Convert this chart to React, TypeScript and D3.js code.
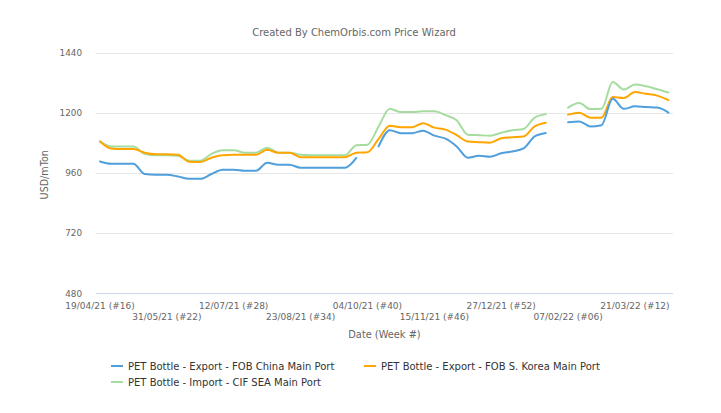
import React from "react";
import * as d3 from "d3";

const WIDTH = 721;
const HEIGHT = 413;

const xTickWeeks = [0, 6, 12, 18, 24, 30, 36, 42, 48];
const xTickLabels = [
  "19/04/21 (#16)",
  "31/05/21 (#22)",
  "12/07/21 (#28)",
  "23/08/21 (#34)",
  "04/10/21 (#40)",
  "15/11/21 (#46)",
  "27/12/21 (#52)",
  "07/02/22 (#06)",
  "21/03/22 (#12)",
];
const yTicks = [480, 720, 960, 1200, 1440];

const chinaFob: (number | null)[] = [
  1005, 996, 996, 996, 955, 952, 952, 945, 936, 936,
  955, 972, 972, 968, 968, 1000, 992, 992, 980, 980,
  980, 980, 980, 1019, null, 1065, 1130, 1118, 1118, 1128,
  1108, 1096, 1065, 1020, 1028, 1024, 1038, 1045, 1057, 1105,
  1119, null, 1162, 1165, 1145, 1150, 1255, 1215, 1225, 1222,
  1220, 1200,
];
const koreaFob: (number | null)[] = [
  1085, 1057, 1055, 1055, 1040, 1034, 1034, 1032, 1004, 1003,
  1020, 1030, 1032, 1032, 1032, 1052, 1040, 1040, 1022, 1022,
  1022, 1022, 1022, 1040, 1042, 1095, 1148, 1142, 1142, 1158,
  1140, 1132, 1110, 1085, 1082, 1080, 1098, 1102, 1105, 1145,
  1160, null, 1192, 1200, 1180, 1180, 1262, 1258, 1282, 1275,
  1268, 1250,
];
const seaCif: (number | null)[] = [
  1085, 1065, 1065, 1065, 1036, 1030, 1030, 1028, 1008, 1008,
  1035, 1050, 1050, 1040, 1040, 1060, 1040, 1040, 1032, 1030,
  1030, 1030, 1030, 1070, 1072, 1145, 1215, 1202, 1202, 1205,
  1205, 1190, 1170, 1112, 1110, 1108, 1120, 1130, 1135, 1180,
  1194, null, 1220, 1238, 1214, 1215, 1322, 1292, 1312, 1305,
  1293, 1280,
];

const seriesNames = [
  "PET Bottle - Export - FOB China Main Port",
  "PET Bottle - Export - FOB S. Korea Main Port",
  "PET Bottle - Import - CIF SEA Main Port",
];
const seriesColors = ["#4f9fdc", "#ffa500", "#a6dca0"];
const seriesData = [chinaFob, koreaFob, seaCif];

const FONT = "'DejaVu Sans', sans-serif";

export default function App() {
  const plotLeft = 96;
  const plotRight = 673;
  const x = d3.scaleLinear().domain([0, 51]).range([100, 668.4]);
  const y = d3.scaleLinear().domain([480, 1440]).range([293, 52.5]);

  const line = d3
    .line<number | null>()
    .defined((d) => d != null)
    .x((_, i) => x(i))
    .y((d) => y(d as number))
    .curve(d3.curveMonotoneX);

  // draw order: green, orange, blue? use reference: blue under? keep series order
  const drawOrder = [2, 1, 0];

  return (
    <svg
      width={WIDTH}
      height={HEIGHT}
      style={{ position: "absolute", left: 0, top: 0, display: "block", background: "#fff" }}
      fontFamily={FONT}
    >
      <rect x={0} y={0} width={WIDTH} height={HEIGHT} fill="#ffffff" />
      <text x={354} y={36} textAnchor="middle" fontSize={10} fill="#666666">
        Created By ChemOrbis.com Price Wizard
      </text>

      {yTicks.map((t) => (
        <g key={t}>
          <line
            x1={plotLeft}
            x2={plotRight}
            y1={Math.round(y(t)) + 0.5}
            y2={Math.round(y(t)) + 0.5}
            stroke={t === 480 ? "#ccd6eb" : "#e6e6e6"}
            strokeWidth={1}
          />
          <text x={82} y={y(t) + 3.5} textAnchor="end" fontSize={8.8} fill="#666666">
            {t}
          </text>
        </g>
      ))}

      <text
        transform={`translate(48,${(52.5 + 293) / 2 + 2}) rotate(-90)`}
        textAnchor="middle"
        fontSize={9.6}
        fill="#666666"
      >
        USD/mTon
      </text>

      {xTickWeeks.map((w, i) => (
        <text
          key={w}
          x={x(w)}
          y={i % 2 === 0 ? 309 : 320}
          textAnchor="middle"
          fontSize={9}
          fill="#666666"
        >
          {xTickLabels[i]}
        </text>
      ))}

      <text x={(plotLeft + plotRight) / 2} y={338} textAnchor="middle" fontSize={9.8} fill="#666666">
        Date (Week #)
      </text>

      {drawOrder.map((si) => (
        <path
          key={si}
          d={line(seriesData[si]) || ""}
          fill="none"
          stroke={seriesColors[si]}
          strokeWidth={2}
          strokeLinejoin="round"
          strokeLinecap="round"
        />
      ))}

      {[
        { si: 0, lx: 111, ty: 369.5 },
        { si: 1, lx: 364, ty: 369.5 },
        { si: 2, lx: 111, ty: 385.5 },
      ].map(({ si, lx, ty }) => (
        <g key={si}>
          <line x1={lx} x2={lx + 12} y1={ty - 3.5} y2={ty - 3.5} stroke={seriesColors[si]} strokeWidth={2} />
          <text x={lx + 17} y={ty} fontSize={10} fill="#333333">
            {seriesNames[si]}
          </text>
        </g>
      ))}
    </svg>
  );
}
